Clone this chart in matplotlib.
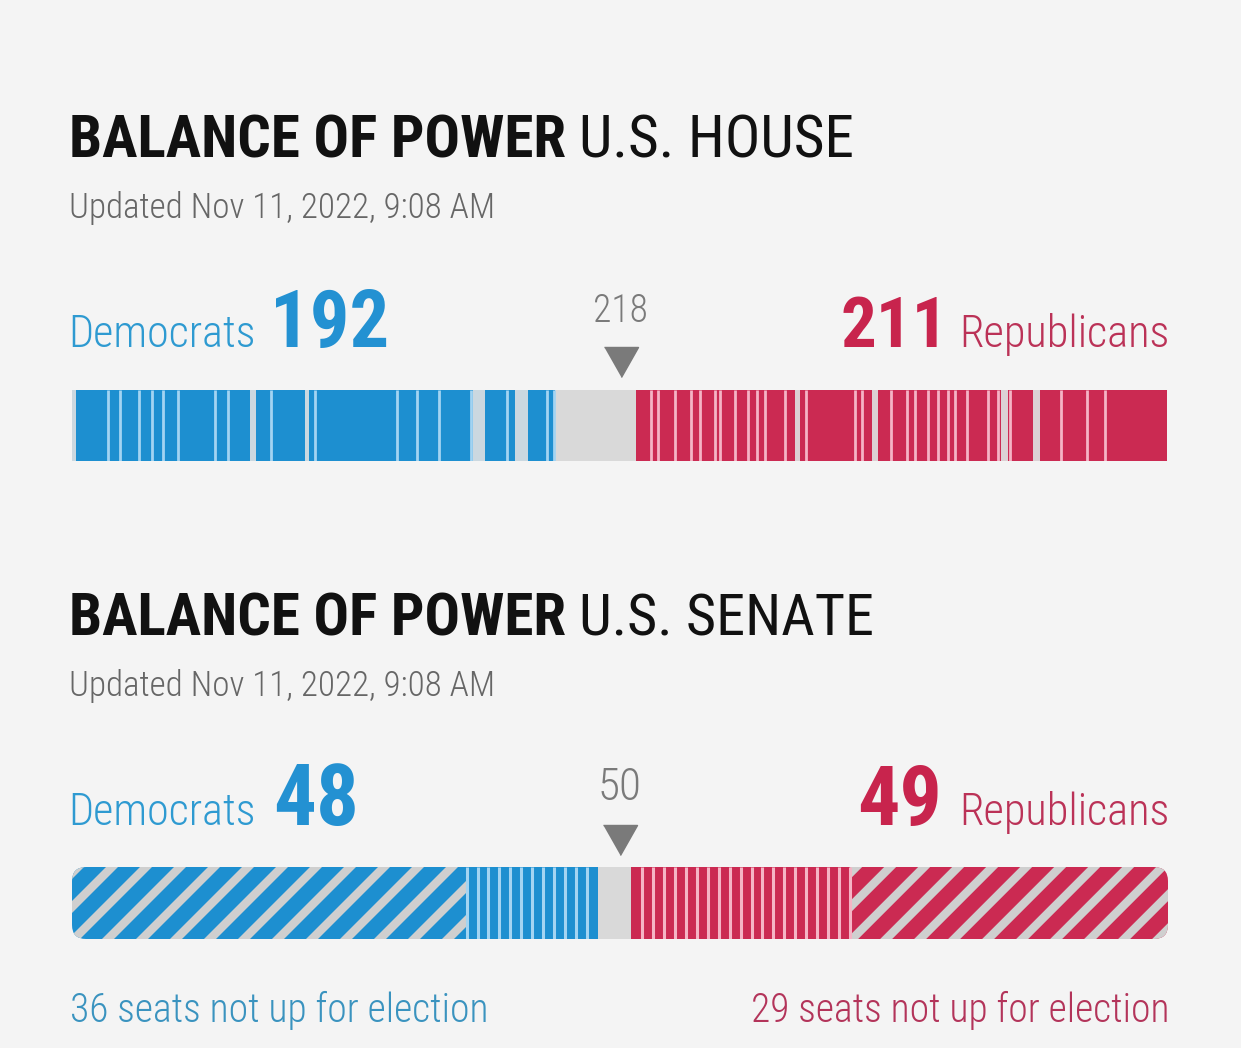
import os
import numpy as np
import matplotlib
matplotlib.use("Agg")
import matplotlib.pyplot as plt
from matplotlib import font_manager as fm
from matplotlib.patches import FancyBboxPatch, Polygon
from matplotlib.textpath import TextPath

# ---------------- data ----------------
house_total = 435
house_majority = 218
house_dem = 192
house_rep = 211

senate_total = 100
senate_majority = 50
senate_dem = 48
senate_rep = 49
senate_dem_not_up = 36
senate_rep_not_up = 29

updated_text = "Updated Nov 11, 2022, 9:08 AM"
house_title = ["BALANCE OF POWER", "U.S. HOUSE"]
senate_title = ["BALANCE OF POWER", "U.S. SENATE"]
dem_label = "Democrats"
rep_label = "Republicans"
dem_not_up_label = f"{senate_dem_not_up} seats not up for election"
rep_not_up_label = f"{senate_rep_not_up} seats not up for election"

# boundaries between district groups inside the House bar (seat positions)
house_dem_breaks = [14.4, 19.1, 26.5, 31.7, 36.3, 42.2, 56.7, 62.0, 78.9, 96.7,
                    129.0, 137.0, 145.8, 158.4, 172.7, 188.6, 191.5]
house_dem_pale = [(0.0, 1.5), (70.7, 73.1), (92.6, 94.3), (159.3, 164.1), (176.0, 181.2)]
house_rep_breaks = [230.1, 232.6, 239.4, 246.0, 249.4, 255.3, 257.3, 263.3, 268.6,
                    272.3, 275.2, 283.1, 291.4, 311.1, 314.0, 325.5, 331.6, 334.8,
                    340.1, 344.0, 348.0, 350.7, 355.7, 363.9, 367.9, 372.6, 393.0,
                    403.1, 410.3]
house_rep_pale = [(287.2, 289.2), (317.7, 320.3), (368.9, 371.9), (381.9, 384.6)]

# ---------------- style ----------------
W, H, DPI = 1241, 1048, 100
BG = "#f4f4f4"
BLUE = "#1d8fd0"
BLUE_SEP = "#a3d4f2"
BLUE_PALE = "#cbd8e0"
RED = "#cb2a52"
RED_SEP = "#f5b4c5"
RED_PALE = "#dcd1d4"
UNDEC = "#d9d9d9"
HATCH_GRAY = "#cfcfcf"
DEM_TXT = "#2e9ad1"
DEM_NUM = "#2391d2"
REP_TXT = "#bb3257"
REP_NUM = "#c8244d"
MAJ_GRAY = "#7a7a7a"
SUB_GRAY = "#666666"
TITLE = "#111111"
NOTE_BLUE = "#3a93bf"
NOTE_RED = "#b3345a"


def find_font(cands, fallback):
    paths = {}
    for f in fm.fontManager.ttflist:
        key = os.path.splitext(os.path.basename(f.fname))[0].lower()
        paths.setdefault(key, f.fname)
    for c in cands:
        if c in paths:
            return paths[c]
    return fm.findfont(fm.FontProperties(family=fallback[0], weight=fallback[1]))


F_BOLD = find_font(["robotocondensed-bold", "notosans-condensedbold",
                    "liberationsansnarrow-bold", "opensans-condensedbold",
                    "dejavusanscondensed-bold", "roboto-bold", "notosans-bold"],
                   ("DejaVu Sans", "bold"))
F_REG = find_font(["robotocondensed-regular", "notosans-condensed",
                   "liberationsansnarrow-regular", "dejavusanscondensed",
                   "roboto-regular", "notosans-regular"],
                  ("DejaVu Sans", "normal"))
F_LIGHT = find_font(["robotocondensed-light", "notosans-condensedlight",
                     "robotocondensed-regular", "notosans-condensed",
                     "liberationsansnarrow-regular", "opensans-condensedlight",
                     "dejavusanscondensed", "roboto-light", "notosans-light"],
                    ("DejaVu Sans", "normal"))

fig = plt.figure(figsize=(W / DPI, H / DPI), dpi=DPI)
fig.patch.set_facecolor(BG)


def put_text(s, font, cap_px, width_px, color, x, y, align="left"):
    prop = fm.FontProperties(fname=font)
    ext = TextPath((0, 0), s, size=100, prop=prop).get_extents()
    cap = TextPath((0, 0), "H", size=100, prop=prop).get_extents().y1
    size_px = min(cap_px * 100 / cap, width_px * 100 / ext.width)
    sc = size_px / 100
    if align == "left":
        xl = x - ext.x0 * sc
    elif align == "right":
        xl = x - ext.x1 * sc
    else:
        xl = x - (ext.x0 + ext.x1) / 2 * sc
    fig.text(xl / W, 1 - y / H, s,
             fontproperties=fm.FontProperties(fname=font, size=size_px * 72 / DPI),
             color=color, ha="left", va="baseline")
    return xl + ext.x1 * sc


def bar_axes(x0, y0, x1, y1, total):
    ax = fig.add_axes([x0 / W, 1 - y1 / H, (x1 - x0) / W, (y1 - y0) / H])
    ax.set_xlim(0, total)
    ax.set_ylim(0, 1)
    ax.set_axis_off()
    return ax


tri = [(-17, 15), (17, 15), (0, -15)]


def header(title, base_y):
    end = put_text(title[0], F_BOLD, 46, 493, TITLE, 72, base_y)
    put_text(title[1], F_REG, 46, 269 if "HOUSE" in title[1] else 289, TITLE, end + 18, base_y)
    put_text(updated_text, F_LIGHT, 30, 421, SUB_GRAY, 72, base_y + 60)


def counts(dem, rep, maj, base_y, dem_w, rep_w, rep_x, maj_w):
    put_text(dem_label, F_LIGHT, 36, 181, DEM_TXT, 72, base_y)
    put_text(str(dem), F_BOLD, 68, dem_w, DEM_NUM, 276, base_y)
    put_text(str(rep), F_BOLD, 68, rep_w, REP_NUM, rep_x, base_y)
    put_text(rep_label, F_LIGHT, 36, 204, REP_TXT, 1167, base_y, align="right")
    put_text(str(maj), F_LIGHT, 34, maj_w, MAJ_GRAY, 620, base_y - 25, align="center")


# ---------------- House ----------------
header(house_title, 158)
counts(house_dem, house_rep, house_majority, 347, 110, 94, 843, 51)

axh = bar_axes(72, 390, 1167, 461, house_total)
h_und = house_total - house_dem - house_rep
axh.barh(0.5, house_dem, left=0, height=1, color=BLUE, lw=0)
axh.barh(0.5, h_und, left=house_dem, height=1, color=UNDEC, lw=0)
axh.barh(0.5, house_rep, left=house_total - house_rep, height=1, color=RED, lw=0)
for a, b in house_dem_pale:
    axh.barh(0.5, b - a, left=a, height=1, color=BLUE_PALE, lw=0)
for a, b in house_rep_pale:
    axh.barh(0.5, b - a, left=a, height=1, color=RED_PALE, lw=0)
axh.vlines(house_dem_breaks, 0, 1, colors=BLUE_SEP, lw=2.0)
axh.vlines(house_rep_breaks, 0, 1, colors=RED_SEP, lw=2.0)
axh.plot([house_majority], [(461 - 362) / 71], marker=tri, ms=24.5,
         color=MAJ_GRAY, clip_on=False, lw=0)

# ---------------- Senate ----------------
header(senate_title, 636)
counts(senate_dem, senate_rep, senate_majority, 825, 79, 78, 860, 38)

axs = bar_axes(72, 867, 1168, 939, senate_total)
bb = axs.get_window_extent()
ppx = bb.width / senate_total
ppy = bb.height
r_px = 14
clip = FancyBboxPatch((0, 0), senate_total, 1,
                      boxstyle=f"round,pad=0,rounding_size={r_px / ppx}",
                      mutation_aspect=ppx / ppy, transform=axs.transData,
                      facecolor="none", edgecolor="none")

s_und = senate_total - senate_dem - senate_rep
segs = [
    (0, senate_dem_not_up, BLUE),
    (senate_dem_not_up, senate_dem - senate_dem_not_up, BLUE),
    (senate_dem, s_und, UNDEC),
    (senate_dem + s_und, senate_rep - senate_rep_not_up, RED),
    (senate_total - senate_rep_not_up, senate_rep_not_up, RED),
]
for left, width, col in segs:
    bars = axs.barh(0.5, width, left=left, height=1, color=col, lw=0)
    for p in bars:
        p.set_clip_path(clip)


def clip_x(poly, x0, x1):
    def step(pts, keep, xc):
        out = []
        n = len(pts)
        for i in range(n):
            a, b = pts[i], pts[(i + 1) % n]
            ka, kb = keep(a), keep(b)
            if ka:
                out.append(a)
            if ka != kb:
                t = (xc - a[0]) / (b[0] - a[0])
                out.append((xc, a[1] + t * (b[1] - a[1])))
        return out
    pts = step(poly, lambda p: p[0] >= x0, x0)
    if pts:
        pts = step(pts, lambda p: p[0] <= x1, x1)
    return pts


def stripes(x0, x1, period_px=34, width_px=12):
    period = period_px / ppx
    w = width_px / ppx
    dx = ppy / ppx
    a = x0 - dx - period
    while a < x1:
        poly = [(a, 0), (a + w, 0), (a + w + dx, 1), (a + dx, 1)]
        pts = clip_x(poly, x0, x1)
        if len(pts) >= 3:
            pg = Polygon(pts, closed=True, facecolor=HATCH_GRAY, edgecolor="none")
            axs.add_patch(pg)
            pg.set_clip_path(clip)
        a += period


stripes(0, senate_dem_not_up)
stripes(senate_total - senate_rep_not_up, senate_total)

axs.vlines(np.arange(senate_dem_not_up, senate_dem), 0, 1, colors=BLUE_SEP, lw=2.2)
axs.vlines(np.arange(senate_dem + s_und + 1, senate_total - senate_rep_not_up + 1), 0, 1,
           colors=RED_SEP, lw=2.2)
axs.plot([senate_majority], [(939 - 840) / 72], marker=tri, ms=24.5,
         color=MAJ_GRAY, clip_on=False, lw=0)

put_text(dem_not_up_label, F_LIGHT, 34, 414, NOTE_BLUE, 72, 1022)
put_text(rep_not_up_label, F_LIGHT, 34, 414, NOTE_RED, 1167, 1022, align="right")

fig.savefig("out.png", dpi=DPI, facecolor=BG)
